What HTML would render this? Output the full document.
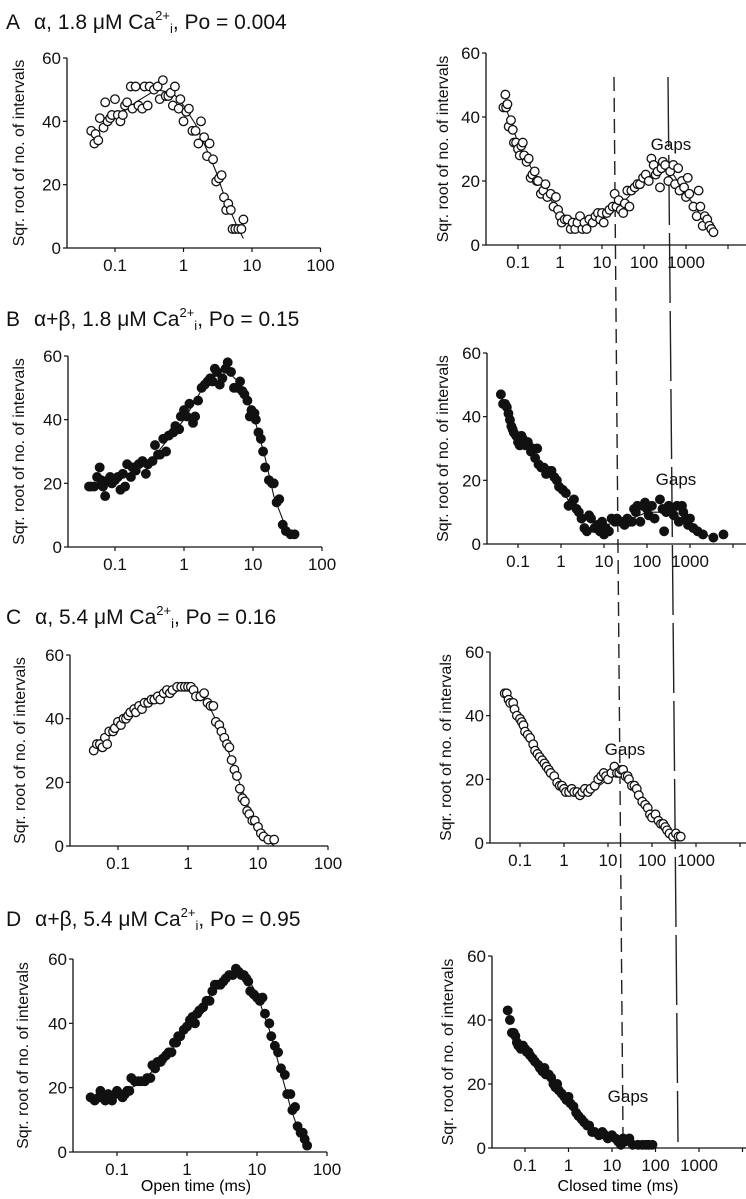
<!DOCTYPE html>
<html><head><meta charset="utf-8"><style>
body{margin:0;background:#fff;}
svg{display:block;font-family:"Liberation Sans",sans-serif;}
</style></head><body>
<svg id="fig" width="746" height="1199" viewBox="0 0 746 1199">
<g font-size="21" fill="#111">
<text x="6" y="29">A<tspan dx="14">α, 1.8 μM Ca</tspan><tspan font-size="13" dy="-9">2+</tspan><tspan font-size="13" dy="13">i</tspan><tspan dy="-4">, Po = 0.004</tspan></text>
<text x="6" y="326">B<tspan dx="14">α+β, 1.8 μM Ca</tspan><tspan font-size="13" dy="-9">2+</tspan><tspan font-size="13" dy="13">i</tspan><tspan dy="-4">, Po = 0.15</tspan></text>
<text x="6" y="624">C<tspan dx="14">α, 5.4 μM Ca</tspan><tspan font-size="13" dy="-9">2+</tspan><tspan font-size="13" dy="13">i</tspan><tspan dy="-4">, Po = 0.16</tspan></text>
<text x="6" y="926">D<tspan dx="14">α+β, 5.4 μM Ca</tspan><tspan font-size="13" dy="-9">2+</tspan><tspan font-size="13" dy="13">i</tspan><tspan dy="-4">, Po = 0.95</tspan></text>
</g>
<text x="196" y="1191" text-anchor="middle" font-size="16">Open time (ms)</text>
<text x="618" y="1191" text-anchor="middle" font-size="16">Closed time (ms)</text>
<line x1="614" y1="77" x2="623" y2="1135" stroke="#222" stroke-width="1.4" stroke-dasharray="14,7"/>
<line x1="668" y1="77" x2="678" y2="1142" stroke="#222" stroke-width="1.4" stroke-dasharray="70,8"/>
</svg>
<script>
const aLx=[0.045,0.05,0.052,0.057,0.06,0.068,0.072,0.078,0.085,0.09,0.1,0.11,0.12,0.13,0.14,0.15,0.17,0.18,0.2,0.22,0.25,0.27,0.3,0.32,0.37,0.42,0.45,0.5,0.55,0.6,0.65,0.7,0.75,0.85,0.9,1.0,1.1,1.2,1.35,1.5,1.65,1.8,2.0,2.2,2.4,2.7,3.0,3.3,3.6,3.9,4.2,4.5,4.9,5.2,5.7,6.3,7.0,7.5];
const aLy=[37,33,36,34,41,38,46,40,41,42,47,42,40,42,45,46,51,44,51,45,44,51,45,51,50,51,47,53,48,48,49,45,51,44,47,40,43,44,37,37,33,40,35,29,33,28,21,22,23,16,12,14,12,6,6,6,6,9];
const aLfx=[0.05,0.1,0.2,0.4,0.7,1,1.5,2,3,4,5,6,7.5];
const aLfy=[36,41,46,50,49,45,39,33,24,16,11,7,3];
const aRx=[0.045,0.05,0.052,0.056,0.06,0.068,0.075,0.08,0.09,0.1,0.11,0.12,0.13,0.14,0.16,0.18,0.2,0.22,0.25,0.28,0.3,0.35,0.4,0.45,0.5,0.6,0.7,0.8,0.9,1.0,1.1,1.3,1.5,1.8,2.0,2.3,2.6,3,3.4,3.8,4.3,5,6,7,8,9,10,11,13,15,18,20,22,25,28,32,35,40,45,50,60,70,80,95,110,130,150,170,190,210,240,260,280,320,380,420,500,550,650,700,800,900,1000,1100,1200,1500,1800,2000,2200,2500,2800,3200,3600,4000,4500];
const aRy=[43,47,43,44,37,39,36,32,32,30,28,31,32,28,26,27,21,22,23,20,20,16,17,19,15,16,12,15,11,9,7,8,8,5,7,5,7,9,5,7,5,8,7,9,10,8,10,7,10,11,12,16,12,14,11,10,13,17,12,17,18,19,19,21,22,20,27,25,22,23,18,24,26,25,20,23,25,19,24,17,20,18,15,21,16,12,9,17,12,6,9,8,6,5,4];
const aRfx=[0.045,0.1,0.3,1,2,5,10,30,100,250,500,1000,3000,5000];
const aRfy=[45,32,20,10,7,8,10,13,20,24,22,16,7,3];
const bLx=[0.042,0.045,0.05,0.055,0.06,0.063,0.067,0.072,0.08,0.085,0.09,0.1,0.11,0.12,0.13,0.14,0.15,0.17,0.18,0.2,0.22,0.25,0.28,0.3,0.35,0.38,0.42,0.45,0.5,0.55,0.6,0.7,0.75,0.85,0.9,1.0,1.1,1.2,1.35,1.45,1.6,1.8,2.0,2.2,2.4,2.6,2.8,3.0,3.3,3.6,4.0,4.3,4.8,5.3,6.0,6.5,7,7.5,8.3,9,9.5,10.5,11,12,13,14,15,17,19,20,22,24,27,30,35,40];
const bLy=[19,19,19,22,25,21,19,16,21,22,20,21,22,18,23,19,26,22,25,24,26,27,23,26,27,32,29,29,34,30,35,36,38,37,41,43,41,45,39,41,46,50,51,52,53,52,56,55,51,53,56,58,55,50,50,52,49,48,46,41,43,42,40,36,34,30,25,21,20,20,14,15,7,5,4,4];
const bLfx=[0.04,0.1,0.3,1,2,3,4,6,10,15,20,30,40];
const bLfy=[19,21,26,40,51,54,56,52,42,28,16,6,3];
const bRx=[0.04,0.045,0.05,0.055,0.06,0.065,0.07,0.075,0.08,0.09,0.1,0.11,0.12,0.13,0.15,0.17,0.2,0.22,0.25,0.28,0.3,0.35,0.4,0.45,0.5,0.6,0.7,0.8,0.9,1.1,1.3,1.5,1.8,2.0,2.3,2.6,3,3.5,4,4.5,5,6,7,8,9,10,11,13,15,18,20,25,30,35,40,45,50,55,60,70,80,90,100,110,130,150,200,230,250,280,320,380,420,500,550,650,700,800,900,1000,1200,1500,2000,3500,6000];
const bRy=[47,44,44,43,41,39,37,36,35,34,32,31,34,33,31,32,29,30,27,30,25,24,24,22,23,23,21,20,18,17,16,12,13,14,11,10,8,5,4,9,8,5,6,4,7,3,5,4,8,7,8,7,6,8,7,7,11,10,12,7,12,13,11,9,12,8,14,11,4,10,12,10,9,12,7,12,10,8,6,8,5,4,3,2,3];
const bRfx=[0.04,0.1,0.3,1,3,10,30,100,300,1000,3000];
const bRfy=[46,33,26,17,8,6,7,10,10,7,2];
const cLx=[0.045,0.05,0.055,0.06,0.065,0.07,0.075,0.085,0.09,0.1,0.11,0.12,0.13,0.14,0.15,0.17,0.18,0.2,0.22,0.24,0.27,0.3,0.33,0.37,0.4,0.45,0.5,0.55,0.6,0.7,0.8,0.9,1.0,1.1,1.2,1.3,1.5,1.7,1.9,2.1,2.3,2.5,2.8,3,3.3,3.6,3.9,4.2,4.6,5,5.5,6,6.5,7,7.5,8.3,9,10,11,12,14,17];
const cLy=[30,32,32,31,34,32,36,36,37,39,38,40,40,41,42,43,42,44,43,45,45,46,46,47,46,48,49,48,49,50,50,50,50,50,49,47,47,48,45,44,44,39,38,36,34,32,31,27,24,22,18,15,14,11,10,8,8,6,4,3,2,2];
const cLfx=[0.045,0.1,0.3,0.6,1,1.5,2,3,5,8,12,17];
const cLfy=[31,38,45,48,50,48,44,36,22,10,3,0];
const cRx=[0.045,0.05,0.055,0.06,0.07,0.075,0.085,0.1,0.11,0.12,0.13,0.15,0.17,0.2,0.22,0.25,0.28,0.32,0.36,0.4,0.45,0.5,0.6,0.7,0.8,0.9,1.0,1.1,1.3,1.5,1.7,2,2.3,2.6,3,3.5,4,5,6,7,8,9,10,12,14,16,18,20,22,25,28,30,35,40,45,50,60,70,80,90,100,120,140,160,180,200,220,250,300,350,400,450];
const cRy=[47,47,45,44,44,42,40,39,38,37,35,34,33,31,29,28,27,26,25,24,23,22,21,19,18,18,17,16,16,17,16,16,15,16,17,16,17,18,20,21,22,21,20,22,24,22,22,23,23,21,21,20,18,18,17,15,13,12,11,9,8,9,7,6,6,5,4,3,2,3,2,2];
const cRfx=[0.045,0.1,0.3,1,2,5,10,20,50,100,200,400];
const cRfy=[47,39,28,18,16,17,20,22,16,9,4,1];
const dLx=[0.042,0.048,0.055,0.058,0.062,0.068,0.075,0.08,0.085,0.095,0.1,0.11,0.12,0.13,0.14,0.15,0.16,0.18,0.2,0.22,0.25,0.27,0.3,0.32,0.35,0.38,0.42,0.45,0.5,0.55,0.6,0.65,0.7,0.75,0.8,0.9,1.0,1.1,1.2,1.3,1.4,1.5,1.7,1.9,2.1,2.3,2.5,2.7,3.0,3.3,3.6,4.0,4.5,5.0,5.5,6,6.5,7,7.5,8,9,10,11,12,13,15,16,18,20,22,25,27,30,32,35,38,42,45,48,52];
const dLy=[17,16,17,19,17,16,18,17,16,18,19,18,17,18,19,19,23,22,22,22,22,23,23,27,26,28,28,29,30,31,31,34,34,36,36,38,39,41,42,40,43,44,45,47,47,50,52,52,52,53,54,55,55,57,56,55,55,54,53,50,49,48,47,48,43,40,36,33,31,26,24,18,18,13,14,8,6,6,4,2];
const dLfx=[0.042,0.1,0.2,0.5,1,2,3,5,7,10,15,20,30,40,52];
const dLfy=[17,18,21,29,39,48,53,56,55,49,38,28,14,6,1];
const dRx=[0.04,0.045,0.05,0.055,0.06,0.065,0.07,0.08,0.09,0.1,0.11,0.12,0.13,0.15,0.17,0.2,0.22,0.25,0.28,0.3,0.35,0.4,0.45,0.5,0.55,0.6,0.7,0.8,0.9,1.0,1.1,1.3,1.5,1.7,2,2.3,2.7,3,3.5,4,5,6,7,8,10,12,14,16,18,20,25,30,40,50,60,70,85];
const dRy=[43,40,36,36,35,33,32,31,32,31,30,30,29,28,27,26,25,24,25,23,23,22,20,19,20,18,17,16,15,16,14,13,11,10,9,8,7,7,5,5,4,5,4,3,4,3,2,1,3,2,3,1,1,1,1,1,1];

const panels=[
 {id:'a-open',ax:67,y0:248,y60:58,x01:115,dec:68.5,maxDec:2,filled:false,px:aLx,py:aLy,fx:aLfx,fy:aLfy,lblX:24},
 {id:'a-closed',ax:486,y0:245,y60:53,x01:518,dec:42,maxDec:5,filled:false,px:aRx,py:aRy,fx:aRfx,fy:aRfy,lblX:448,gaps:[671,150]},
 {id:'b-open',ax:68,y0:547,y60:356,x01:115,dec:69,maxDec:2,filled:true,px:bLx,py:bLy,fx:bLfx,fy:bLfy,lblX:24},
 {id:'b-closed',ax:487,y0:544,y60:353,x01:518,dec:43,maxDec:5,filled:true,px:bRx,py:bRy,fx:bRfx,fy:bRfy,lblX:448,gaps:[676,485]},
 {id:'c-open',ax:70,y0:846,y60:655,x01:118,dec:70,maxDec:2,filled:false,px:cLx,py:cLy,fx:cLfx,fy:cLfy,lblX:25},
 {id:'c-closed',ax:490,y0:843,y60:652,x01:520,dec:44,maxDec:5,filled:false,px:cRx,py:cRy,fx:cRfx,fy:cRfy,lblX:451,gaps:[625,755]},
 {id:'d-open',ax:73,y0:1152,y60:959,x01:117,dec:70,maxDec:2,filled:true,px:dLx,py:dLy,fx:dLfx,fy:dLfy,lblX:28},
 {id:'d-closed',ax:492,y0:1148,y60:956,x01:525,dec:43.5,maxDec:5,filled:true,px:dRx,py:dRy,fx:null,fy:null,lblX:453,gaps:[628,1102]}
];
const tickLabels=['0.1','1','10','100','1000'];
const yTicks=[0,20,40,60];
const NS='http://www.w3.org/2000/svg';
const svg=document.getElementById('fig');
function mk(tag,attrs,parent){const e=document.createElementNS(NS,tag);for(const k in attrs)e.setAttribute(k,attrs[k]);parent.appendChild(e);return e;}
panels.forEach(p=>{
 const g=mk('g',{},svg);
 
 
 const xs=v=>p.x01+(Math.log10(v)+1)*p.dec;
 const ys=v=>p.y0+(p.y60-p.y0)*v/60;
 const xEnd=xs(Math.pow(10,p.maxDec));
 const ax=mk('path',{d:`M${p.ax},${p.y60}V${p.y0}H${xEnd}`,fill:'none',stroke:'#111','stroke-width':1.3},g);
 
 
 yTicks.forEach(t=>{
  const y=ys(t);
  mk('line',{x1:p.ax-4,x2:p.ax,y1:y,y2:y,stroke:'#111','stroke-width':1.2},g);
  const tx=mk('text',{x:p.ax-6,y:y+6,'text-anchor':'end','font-size':17,fill:'#111'},g);
  tx.textContent=t;
  
  
 });
 for(let d=-1;d<=p.maxDec;d++){
  const x=xs(Math.pow(10,d));
  mk('line',{x1:x,x2:x,y1:p.y0,y2:p.y0+4,stroke:'#111','stroke-width':1.2},g);
  const lbl=tickLabels[d+1];
  if(lbl){
   const tx=mk('text',{x:x,y:p.y0+23,'text-anchor':'middle','font-size':17,fill:'#111'},g);
   tx.textContent=lbl;
   
   
  }
 }
 const cy=(p.y0+p.y60)/2;
 const yl=mk('text',{x:p.lblX,y:cy,'text-anchor':'middle','font-size':16,fill:'#111',transform:`rotate(-90 ${p.lblX} ${cy})`},g);
 yl.textContent='Sqr. root of no. of intervals';
 
 
 if(p.fx){
  const d=p.fx.map((v,i)=>(i?'L':'M')+xs(v).toFixed(1)+','+ys(p.fy[i]).toFixed(1)).join('');
  const fl=mk('path',{d:d,fill:'none',stroke:'#111','stroke-width':1.1},g);
  
  
 }
 p.px.forEach((v,i)=>{
  const c=mk('circle',{cx:xs(v),cy:ys(p.py[i]),r:4.3,fill:p.filled?'#111':'#fff',stroke:'#111','stroke-width':1.3},g);
  
  
 });
 if(p.gaps){
  const t=mk('text',{x:p.gaps[0],y:p.gaps[1],'text-anchor':'middle','font-size':17,fill:'#111'},g);
  t.textContent='Gaps';
  
  
 }
});
</script>
</body></html>
